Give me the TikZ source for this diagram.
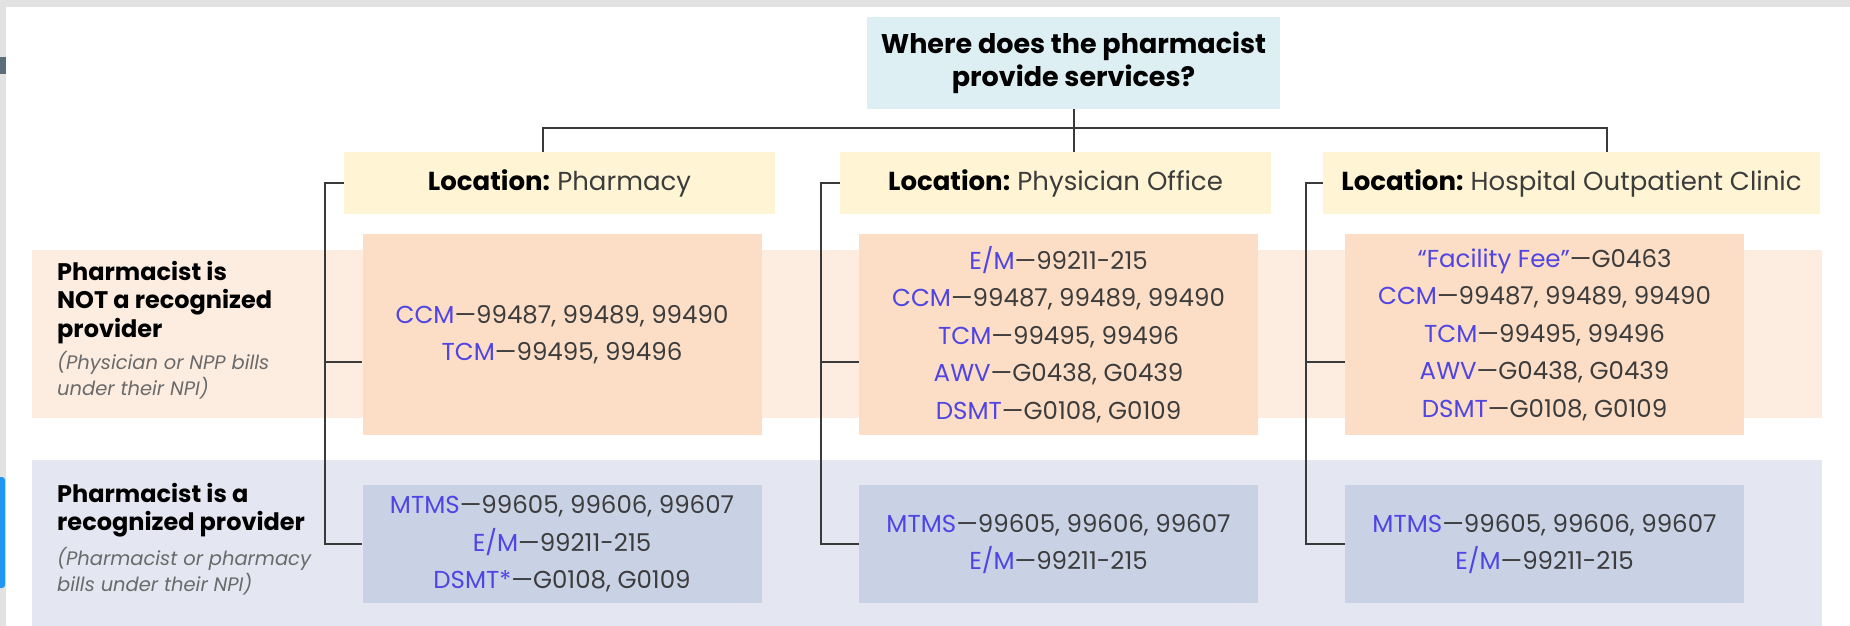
\documentclass[tikz,border=0pt]{standalone}
\usepackage{fontspec}
\setmainfont{Poppins}
\usepackage{tikz}
\usetikzlibrary{positioning}

\definecolor{framegray}{HTML}{E2E2E2}
\definecolor{slate}{HTML}{5B6E7A}
\definecolor{tabblue}{HTML}{2196F3}
\definecolor{qcyan}{HTML}{DDEFF2}
\definecolor{locyellow}{HTML}{FFF5D5}
\definecolor{nppband}{HTML}{FDEDE1}
\definecolor{nppbox}{HTML}{FCDDC5}
\definecolor{rphband}{HTML}{E4E7F1}
\definecolor{rphbox}{HTML}{C9D1E5}
\definecolor{linegray}{HTML}{3A3A3A}
\definecolor{codeblue}{HTML}{4F45E4}
\definecolor{codegray}{HTML}{3C3C3C}
\definecolor{subgray}{HTML}{6A6A6A}

\newcommand{\code}[2]{\textcolor{codeblue}{#1}\textcolor{codegray}{\textemdash#2}}

\begin{document}
\begin{tikzpicture}[x=1pt,y=-1pt,
    conn/.style={draw=linegray, line width=2pt},
    locbox/.style={fill=locyellow, minimum height=62pt, inner sep=0pt, text=codegray, font=\fontsize{26}{30}\selectfont},
    codebox/.style={inner sep=0pt, align=center, minimum width=399pt, font=\fontsize{24.5}{37.5}\selectfont},
    rowlabel/.style={anchor=north west, align=left, inner sep=0pt, font=\bfseries\fontsize{24}{28.5}\selectfont},
    rowsub/.style={anchor=north west, align=left, inner sep=0pt, text=subgray, font=\itshape\fontsize{19.5}{26}\selectfont}]
  \useasboundingbox (0,0) rectangle (1850,626);

  % frame bits
  \fill[framegray] (0,0) rectangle (1850,7);
  \fill[framegray] (0,0) rectangle (6,626);
  \fill[slate] (0,57) rectangle (6,74);
  \fill[tabblue, rounded corners=3pt] (-6,477) rectangle (5,588);

  % row bands
  \fill[nppband] (32,250) rectangle (1822,418);
  \fill[rphband] (32,460) rectangle (1822,626);

  \node[fill=qcyan, minimum width=413pt, minimum height=92pt, inner sep=0pt, align=center,
        font=\bfseries\fontsize{27}{33}\selectfont] (q) at (1073.5,63) {Where does the pharmacist\\provide services?};

  \foreach \n/\cx/\w/\name in {1/559.5/431/Pharmacy, 2/1055.5/431/Physician Office, 3/1571.5/497/Hospital Outpatient Clinic}{
    \node[locbox, minimum width=\w pt] (loc\n) at (\cx,183) {\textcolor{black}{\bfseries Location:}\hspace{0.28em}\name}; }

  % not recognized
  \node[codebox, fill=nppbox, minimum height=201pt] (npp1) at (562,334.5)
    {\code{CCM}{99487, 99489, 99490}\\\code{TCM}{99495, 99496}};
  \node[codebox, fill=nppbox, minimum height=201pt] (npp2) at (1058.5,334.5)
    {\code{E/M}{99211-215}\\\code{CCM}{99487, 99489, 99490}\\\code{TCM}{99495, 99496}\\\code{AWV}{G0438, G0439}\\\code{DSMT}{G0108, G0109}};
  \node[codebox, fill=nppbox, minimum height=201pt] (npp3) at (1544.5,334.5)
    {\code{“Facility Fee”}{G0463}\\\code{CCM}{99487, 99489, 99490}\\\code{TCM}{99495, 99496}\\\code{AWV}{G0438, G0439}\\\code{DSMT}{G0108, G0109}};

  % recognized
  \node[codebox, fill=rphbox, minimum height=118pt] (rph1) at (562,544)
    {\code{MTMS}{99605, 99606, 99607}\\\code{E/M}{99211-215}\\\code{DSMT*}{G0108, G0109}};
  \node[codebox, fill=rphbox, minimum height=118pt] (rph2) at (1058.5,544)
    {\code{MTMS}{99605, 99606, 99607}\\\code{E/M}{99211-215}};
  \node[codebox, fill=rphbox, minimum height=118pt] (rph3) at (1544.5,544)
    {\code{MTMS}{99605, 99606, 99607}\\\code{E/M}{99211-215}};

  \node[rowlabel] (lab1) at (57,261) {Pharmacist is\\NOT a recognized\\provider};
  \node[rowsub] (sub1) at (57,351) {(Physician or NPP bills\\under their NPI)};
  \node[rowlabel] (lab2) at (57,483) {Pharmacist is a\\recognized provider};
  \node[rowsub] (sub2) at (57,547) {(Pharmacist or pharmacy\\bills under their NPI)};

  \coordinate (j1) at (543,128);
  \coordinate (j3) at (1607,128);
  \draw[conn] (q.south) -- (q.south |- loc2.north);
  \draw[conn] (j1 |- loc1.north) -- (j1) -- (j3) -- (j3 |- loc3.north);

  \foreach \n/\bx in {1/325, 2/821, 3/1306}{
    \coordinate (b\n) at (\bx,183);
    \coordinate (m\n) at (\bx,362);
    \draw[conn] (loc\n.west) -- (b\n) |- (rph\n.west);
    \draw[conn] (m\n) -- (m\n -| npp\n.west); }
\end{tikzpicture}
\end{document}
